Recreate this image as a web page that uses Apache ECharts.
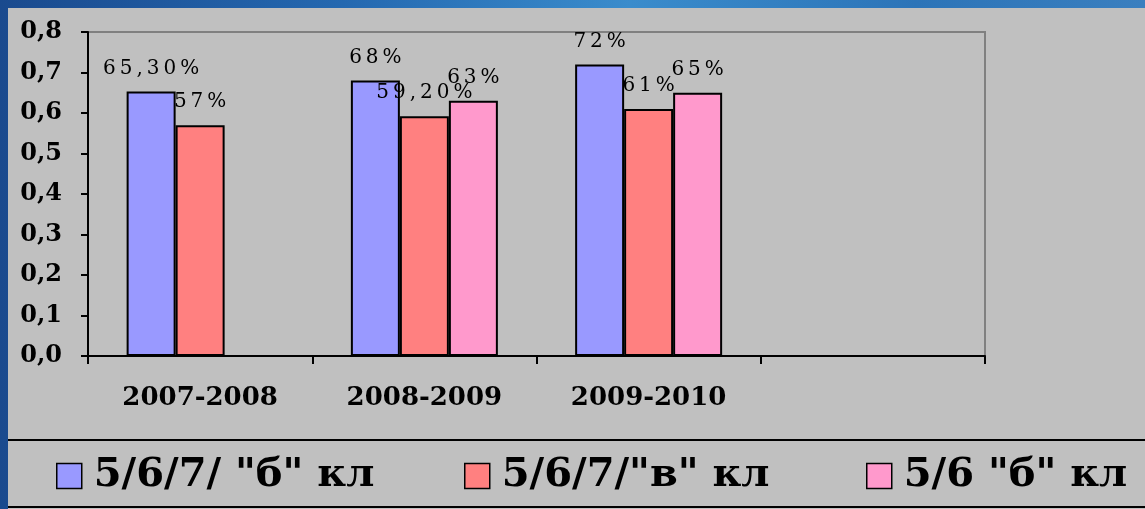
<!DOCTYPE html>
<html>
<head>
<meta charset="utf-8">
<script src="https://cdn.jsdelivr.net/npm/echarts@6/dist/echarts.min.js"></script>
<style>
html, body {
  margin: 0;
  padding: 0;
  width: 1145px;
  height: 509px;
  overflow: hidden;
  background: linear-gradient(to right, #1a4a8e 0%, #2468b0 30%, #3a8ccc 55%, #2c74b8 80%, #3a7fbf 100%);
}
#chart {
  position: absolute;
  left: 8px;
  top: 8px;
  width: 1137px;
  height: 501px;
  background: #c0c0c0;
}
</style>
</head>
<body>
<div id="chart"></div>
<script>
// data
const categories = ['2007-2008', '2008-2009', '2009-2010', '']
const seriesNames = ['5/6/7/ "б" кл', '5/6/7/"в" кл', '5/6 "б" кл']
const valuesB = [0.653, 0.68, 0.72, null]
const valuesV = [0.57, 0.592, 0.61, null]
const valuesB56 = [null, 0.63, 0.65, null]
const labelsB = ['65,30%', '68%', '72%', '']
const labelsV = ['57%', '59,20%', '61%', '']
const labelsB56 = ['', '63%', '65%', '']
const yTicks = ['0,0', '0,1', '0,2', '0,3', '0,4', '0,5', '0,6', '0,7', '0,8']

const colors = ['#9999ff', '#ff8080', '#ff99cc']
const serif = '"DejaVu Serif", "Liberation Serif", serif'

const chart = echarts.init(document.getElementById('chart'))

function spaced (txt) {
  return txt.split('').join('\u2009')
}

function makeSeries (name, data, labels, color) {
  return {
    name: name,
    type: 'bar',
    data: data,
    barWidth: 49,
    barGap: '0%',
    itemStyle: {
      color: color,
      borderColor: '#000',
      borderWidth: 2
    },
    label: {
      show: true,
      position: 'top',
      distance: 13,
      color: '#000',
      fontFamily: serif,
      fontSize: 20,
      formatter: function (p) {
        return spaced(labels[p.dataIndex])
      }
    }
  }
}

function makeLegend (idx, left) {
  return {
    data: [seriesNames[idx]],
    left: left,
    top: 448,
    padding: 0,
    itemWidth: 25,
    itemHeight: 25,
    icon: 'rect',
    itemStyle: {
      borderColor: '#000',
      borderWidth: 1.5
    },
    textStyle: {
      fontFamily: serif,
      fontWeight: 'bold',
      fontSize: 40,
      color: '#000',
      padding: [0, 0, 0, 7]
    }
  }
}

chart.setOption({
  animation: false,
  color: colors,
  grid: {
    left: 80,
    top: 24,
    right: 160,
    bottom: 153,
    show: true,
    borderColor: '#808080',
    borderWidth: 2,
    backgroundColor: 'transparent'
  },
  legend: [
    makeLegend(0, 48),
    makeLegend(1, 456),
    makeLegend(2, 858)
  ],
  graphic: [{
    type: 'rect',
    shape: { x: -2, y: 432, width: 1145, height: 67 },
    style: { fill: 'transparent', stroke: '#000', lineWidth: 2 },
    silent: true
  }],
  xAxis: {
    type: 'category',
    data: categories,
    axisLine: { lineStyle: { color: '#000', width: 2 } },
    axisTick: { show: true, length: 8, lineStyle: { color: '#000', width: 2 } },
    axisLabel: {
      margin: 29,
      color: '#000',
      fontFamily: serif,
      fontWeight: 'bold',
      fontSize: 26
    }
  },
  yAxis: {
    type: 'value',
    min: 0,
    max: 0.8,
    interval: 0.1,
    axisLine: { show: true, lineStyle: { color: '#000', width: 2 } },
    axisTick: { show: true, length: 7, lineStyle: { color: '#000', width: 2 } },
    splitLine: { show: false },
    axisLabel: {
      margin: 26,
      color: '#000',
      fontFamily: serif,
      fontWeight: 'bold',
      fontSize: 24,
      formatter: function (v) {
        return yTicks[Math.round(v * 10)]
      }
    }
  },
  series: [
    makeSeries(seriesNames[0], valuesB, labelsB, colors[0]),
    makeSeries(seriesNames[1], valuesV, labelsV, colors[1]),
    makeSeries(seriesNames[2], valuesB56, labelsB56, colors[2])
  ]
})
</script>
</body>
</html>
